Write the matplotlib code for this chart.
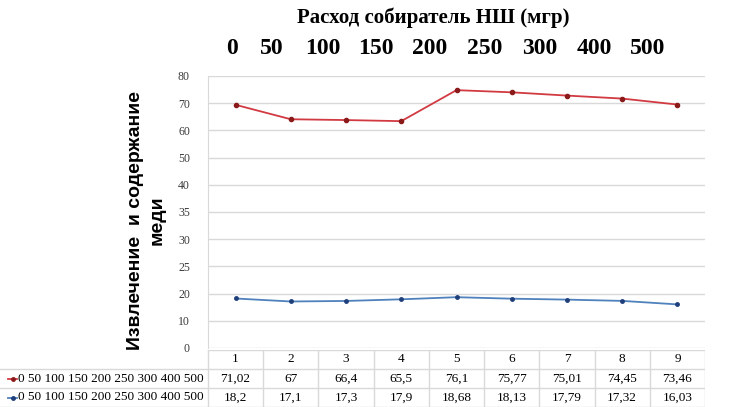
import numpy as np
import matplotlib
matplotlib.use('Agg')
import matplotlib.pyplot as plt
from matplotlib.lines import Line2D

# данные
categories = [1, 2, 3, 4, 5, 6, 7, 8, 9]
dose_labels = ['0', '50', '100', '150', '200', '250', '300', '400', '500']
# значения как нарисованы на графике
red_plot = [69.4, 64.1, 63.8, 63.4, 74.8, 74.0, 72.8, 71.7, 69.5]
blue_plot = [18.2, 17.1, 17.3, 17.9, 18.68, 18.13, 17.79, 17.32, 16.03]
# значения в таблице
red_table = ['71,02', '67', '66,4', '65,5', '76,1', '75,77', '75,01', '74,45', '73,46']
blue_table = ['18,2', '17,1', '17,3', '17,9', '18,68', '18,13', '17,79', '17,32', '16,03']
# подписи оси y (неравномерные, как в оригинале)
ytick_vals = [0, 10, 20, 25, 30, 35, 40, 50, 60, 70, 80]

W, H = 749, 407
fig = plt.figure(figsize=(W / 100, H / 100), dpi=100)

serif = 'Liberation Serif'
sans = 'Liberation Sans'
red = '#d23a42'
red_m = '#8b1a1a'
blue = '#4f81bd'
blue_m = '#1f3f7a'
grid_c = '#d9d9d9'

# основная область
x0, x1 = 208, 705
y_top, y_bot = 76, 348
ax = fig.add_axes([x0 / W, 1 - y_bot / H, (x1 - x0) / W, (y_bot - y_top) / H])

pos = np.arange(len(ytick_vals))
fwd = lambda v: np.interp(v, ytick_vals, pos)
inv = lambda p: np.interp(p, pos, ytick_vals)
ax.set_yscale('function', functions=(fwd, inv))
ax.set_ylim(0, 80)
ax.set_xlim(0.5, 9.5)
ax.set_yticks(ytick_vals)
ax.set_yticklabels([str(v) for v in ytick_vals], fontfamily=serif, fontsize=8.5, color='#3a3a3a')
ax.set_xticks([])
ax.tick_params(axis='y', length=0, pad=13)
ax.yaxis.grid(True, color=grid_c, linewidth=1)
ax.set_axisbelow(True)
for s in ['top', 'right', 'bottom']:
    ax.spines[s].set_visible(False)
ax.spines['left'].set_color(grid_c)

ax.plot(categories, red_plot, color=red, linewidth=1.3, marker='o', markersize=3,
        markerfacecolor=red_m, markeredgecolor=red_m)
ax.plot(categories, blue_plot, color=blue, linewidth=1.3, marker='o', markersize=2.5,
        markerfacecolor=blue_m, markeredgecolor=blue_m)

# заголовок сверху
fig.text(433 / W, 1 - 18 / H, 'Расход собиратель НШ (мгр)', fontfamily=serif,
         fontweight='bold', fontsize=15, ha='center', va='center')
top_x = [232, 272, 323, 376, 430, 485, 540, 594, 648]
for xx, lab in zip(top_x, dose_labels):
    fig.text(xx / W, 1 - 48 / H, lab, fontfamily=serif, fontweight='bold',
             fontsize=17, ha='center', va='center')

# подпись оси y
fig.text(146 / W, 1 - 220 / H, 'Извлечение  и содержание\nмеди', rotation=90,
         fontfamily=sans, fontweight='bold', fontsize=14, ha='center', va='center',
         multialignment='center', linespacing=1.35)

# таблица
t_top, t_bot = 350, 407
tax = fig.add_axes([0, 1 - t_bot / H, x1 / W, (t_bot - t_top) / H])
ppu = (x1 - x0) / 9.0
tax.set_xlim(0.5 - x0 / ppu, 9.5)
tax.set_ylim(3, 0)
tax.axis('off')
left = 0.5 - x0 / ppu
# линии сетки таблицы
tax.plot([0.5, 9.5], [0, 0], color=grid_c, lw=1)
for yy in [1, 2, 3]:
    tax.plot([left, 9.5], [yy, yy], color=grid_c, lw=1)
for xx in np.arange(0.5, 10.5, 1):
    tax.plot([xx, xx], [0, 3], color=grid_c, lw=1)
for c in categories:
    tax.text(c, 0.5, str(c), fontfamily=serif, fontsize=9.5, ha='center', va='center')
for c, rv, bv in zip(categories, red_table, blue_table):
    tax.text(c, 1.5, rv, fontfamily=serif, fontsize=9.5, ha='center', va='center')
    tax.text(c, 2.5, bv, fontfamily=serif, fontsize=9.5, ha='center', va='center')
row_text = ' '.join(dose_labels)
for row, col, mc in [(1.5, red, red_m), (2.5, blue, blue_m)]:
    tax.add_line(Line2D([left + 0.14, left + 0.3], [row, row], color=col, lw=1.3))
    tax.plot([left + 0.24], [row], marker='o', markersize=2.5, color=mc)
    tax.text(0.42, row, row_text, fontfamily=serif, fontsize=9.5, ha='right', va='center')

fig.savefig('out.png', dpi=100)
